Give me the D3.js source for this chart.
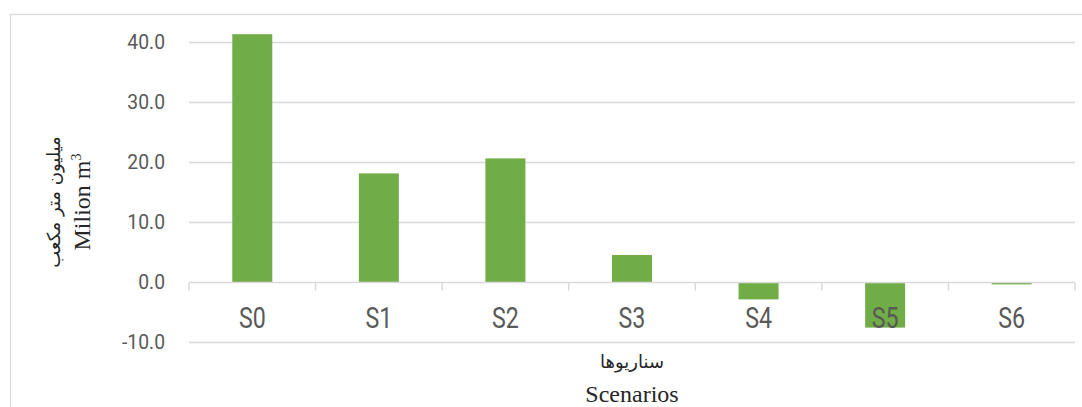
<!DOCTYPE html>
<html>
<head>
<meta charset="utf-8">
<script src="https://cdn.jsdelivr.net/npm/d3@7"></script>
<style>
  html, body { margin: 0; padding: 0; background: #fff; }
  svg { display: block; }
</style>
</head>
<body>
<svg id="chart" width="1082" height="407"></svg>
<script>
// Scenario volumes (million m³)
const scenarios = ["S0", "S1", "S2", "S3", "S4", "S5", "S6"];
const volumes = [41.3, 18.1, 20.6, 4.5, -2.9, -7.6, -0.4];
const yTicks = [-10, 0, 10, 20, 30, 40];

const xTitleFa = "سناریوها";
const xTitleEn = "Scenarios";
const yTitleFa = "میلیون متر مکعب";
const yTitleEn = "Milion m";

const svg = d3.select("#chart");
const W = 1082, H = 407;
const plot = { left: 189, right: 1075, top: 42, bottom: 342 };

// Outer chart frame
svg.append("rect")
  .attr("x", 10.5).attr("y", 14.5)
  .attr("width", W).attr("height", H)
  .attr("fill", "none").attr("stroke", "#d9d9d9").attr("stroke-width", 1.3);

const x = d3.scaleBand()
  .domain(scenarios)
  .range([plot.left, plot.right])
  .paddingInner(0.684)
  .paddingOuter(0.342);

const y = d3.scaleLinear()
  .domain([-10, 40])
  .range([plot.bottom, plot.top]);

// Horizontal gridlines
svg.append("g")
  .selectAll("line")
  .data(yTicks.filter(d => d !== 0))
  .join("line")
  .attr("x1", plot.left).attr("x2", plot.right)
  .attr("y1", d => Math.round(y(d)) + 0.5).attr("y2", d => Math.round(y(d)) + 0.5)
  .attr("stroke", "#d9d9d9").attr("stroke-width", 1.3);

// Y tick labels (ASCII hyphen for negatives)
const fmt = d => d.toFixed(1);
svg.append("g")
  .selectAll("text")
  .data(yTicks)
  .join("text")
  .attr("transform", d => `translate(165,${y(d)}) scale(0.92,1)`)
  .attr("dy", "0.35em")
  .attr("text-anchor", "end")
  .attr("font-family", "Roboto, 'Open Sans', sans-serif")
  .attr("font-weight", 400)
  .attr("font-size", 21)
  .attr("fill", "#595959")
  .text(fmt);

// Bars
svg.append("g")
  .selectAll("rect")
  .data(scenarios.map((s, i) => ({ s, v: volumes[i] })))
  .join("rect")
  .attr("x", d => x(d.s))
  .attr("width", x.bandwidth())
  .attr("y", d => y(Math.max(0, d.v)))
  .attr("height", d => Math.abs(y(d.v) - y(0)))
  .attr("fill", "#70ad47");

// Zero axis line with category-boundary ticks
const zeroY = Math.round(y(0)) + 0.5;
const axis = svg.append("g");
axis.append("line")
  .attr("x1", plot.left).attr("x2", plot.right)
  .attr("y1", zeroY).attr("y2", zeroY)
  .attr("stroke", "#d9d9d9").attr("stroke-width", 1.5);
const step = x.step();
const bounds = d3.range(scenarios.length + 1).map(i => plot.left + i * step);
axis.selectAll("line.tick")
  .data(bounds)
  .join("line")
  .attr("class", "tick")
  .attr("x1", d => d).attr("x2", d => d)
  .attr("y1", zeroY).attr("y2", zeroY + 8)
  .attr("stroke", "#d9d9d9").attr("stroke-width", 1.5);

// Category labels
svg.append("g")
  .selectAll("text")
  .data(scenarios)
  .join("text")
  .attr("transform", d => `translate(${x(d) + x.bandwidth() / 2},328) scale(0.8,1)`)
  .attr("text-anchor", "middle")
  .attr("font-family", "Roboto, 'Open Sans', sans-serif")
  .attr("font-weight", 400)
  .attr("font-size", 29)
  .attr("fill", "#595959")
  .text(d => d);

// X axis titles
const midX = (plot.left + plot.right) / 2;
svg.append("text")
  .attr("x", midX).attr("y", 368)
  .attr("text-anchor", "middle")
  .attr("font-family", "'DejaVu Sans', 'Noto Sans', sans-serif")
  .attr("font-size", 18)
  .attr("fill", "#262626")
  .text(xTitleFa);
svg.append("text")
  .attr("x", midX).attr("y", 402)
  .attr("text-anchor", "middle")
  .attr("font-family", "'Liberation Serif', 'Times New Roman', serif")
  .attr("font-size", 24)
  .attr("fill", "#262626")
  .text(xTitleEn);

// Y axis titles (rotated)
const yMid = 202;
svg.append("text")
  .attr("transform", `translate(54,${yMid}) rotate(-90)`)
  .attr("text-anchor", "middle")
  .attr("dy", "0.35em")
  .attr("font-family", "'DejaVu Sans', 'Noto Sans', sans-serif")
  .attr("font-size", 18)
  .attr("fill", "#262626")
  .text(yTitleFa);
const en = svg.append("text")
  .attr("transform", `translate(90,${yMid}) rotate(-90)`)
  .attr("text-anchor", "middle")
  .attr("font-family", "'Liberation Serif', 'Times New Roman', serif")
  .attr("font-size", 24)
  .attr("fill", "#262626");
en.append("tspan").text(yTitleEn);
en.append("tspan").attr("font-size", 14).attr("dy", -9).text("3");
</script>
</body>
</html>
